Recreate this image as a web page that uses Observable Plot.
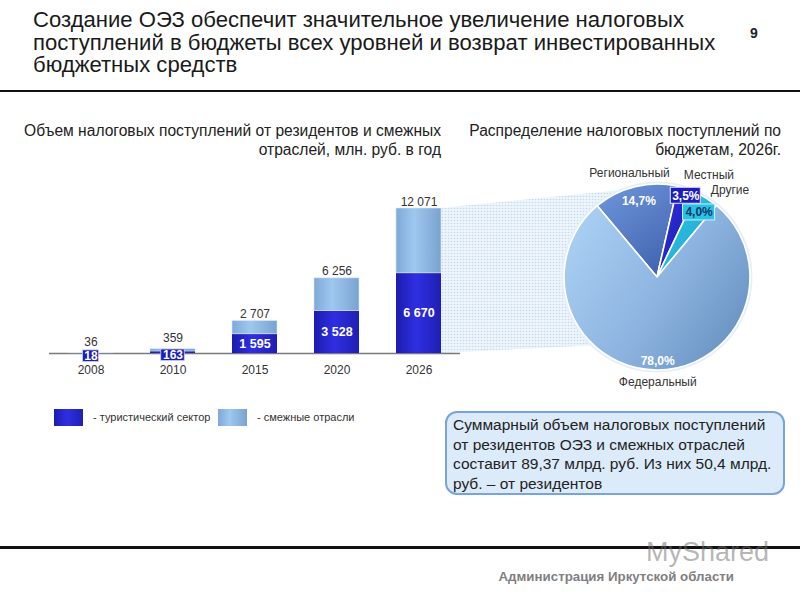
<!DOCTYPE html>
<html>
<head>
<meta charset="utf-8">
<script src="https://cdn.jsdelivr.net/npm/d3@7"></script>
<script src="https://cdn.jsdelivr.net/npm/@observablehq/plot@0.6"></script>
<style>
  html, body { margin: 0; padding: 0; background: #fff; }
  #page { position: relative; width: 800px; height: 600px; overflow: hidden; font-family: "Liberation Sans", Arial, sans-serif; color: #222; }
  .abs { position: absolute; }
  #title { left: 33px; top: 9px; font-size: 22.1px; color: #1a1a1a; white-space: nowrap; }
  #title div { height: 22.5px; line-height: 22.5px; }
  #pagenum { left: 750px; top: 25px; font-size: 14px; font-weight: bold; color: #222; }
  .rule { left: 0; width: 800px; background: #111; }
  .sub { top: 121px; font-size: 15.6px; line-height: 19px; text-align: right; color: #222; white-space: nowrap; }
  #subL { right: 359px; }
  #subR { right: 19px; }
  #bars { left: 0; top: 180px; }
  #pie { left: 540px; top: 160px; }
  #legend { left: 54px; top: 409px; font-size: 11px; color: #333; }
  .sw { position: absolute; top: 0; width: 29px; height: 17px; }
  .lt { position: absolute; top: 2px; white-space: nowrap; }
  #note { left: 445px; top: 411px; width: 340px; height: 84px; box-sizing: border-box; border: 2px solid #78a3dc; border-radius: 12px; background: #dcebfa; padding: 2px 6px; font-size: 15.5px; line-height: 19.6px; color: #222; }
  #footer { right: 66px; top: 569px; font-size: 13.3px; font-weight: bold; color: #7f7f7f; white-space: nowrap; }
  #wm { left: 646px; top: 537px; font-size: 27px; color: rgba(110,110,110,0.5); white-space: nowrap; }
</style>
</head>
<body>
<div id="page">
  <div id="title" class="abs"><div>Создание ОЭЗ обеспечит значительное увеличение налоговых</div><div>поступлений в бюджеты всех уровней и возврат инвестированных</div><div>бюджетных средств</div></div>
  <div id="pagenum" class="abs">9</div>
  <div class="abs rule" style="top:90px;height:2px"></div>
  <div id="subL" class="abs sub">Объем налоговых поступлений от резидентов и смежных<br>отраслей, млн. руб. в год</div>
  <div id="subR" class="abs sub">Распределение налоговых поступлений по<br>бюджетам, 2026г.</div>
  <div id="bars" class="abs"></div>
  <div id="pie" class="abs"></div>
  <div id="legend" class="abs"></div>
  <div id="note" class="abs">Суммарный объем налоговых поступлений от резидентов ОЭЗ и смежных отраслей составит 89,37 млрд. руб. Из них 50,4 млрд. руб. – от резидентов</div>
  <div class="abs rule" style="top:546px;height:2.5px"></div>
  <div id="wm" class="abs">MyShared</div>
  <div id="footer" class="abs">Администрация Иркутской области</div>
</div>
<script>
// ---------- data ----------
const years = ["2008", "2010", "2015", "2020", "2026"];
const tourism = [18, 163, 1595, 3528, 6670];
const totals = [36, 359, 2707, 6256, 12071];
const seriesLabels = ["- туристический сектор", "- смежные отрасли"];
const budgetNames = ["Региональный", "Местный", "Другие", "Федеральный"];
const budgetShares = [14.7, 3.5, 4.0, 78.0];

// ---------- formatting ----------
const ru = d3.formatLocale({decimal: ",", thousands: " ", grouping: [3], currency: ["", ""]});
const fmtInt = ru.format(",d");
const fmtPct = (v) => ru.format(".1f")(v) + "%";

const fontFamily = "'Liberation Sans', Arial, sans-serif";

// ---------- bar chart ----------
const rows = years.map((year, i) => ({year, tourism: tourism[i], total: totals[i]}));
const PIE_CX = 657, PIE_CY = 277, PIE_R = 93; // page layout of the pie
const BAR_LEFT = 0, BAR_TOP = 180;

function svgEl(tag) { return document.createElementNS("http://www.w3.org/2000/svg", tag); }

function barDefs() {
  const g = d3.create("svg:g");
  const defs = g.append("defs");
  const dark = defs.append("linearGradient").attr("id", "barDark").attr("x1", 0).attr("x2", 1).attr("y1", 0).attr("y2", 0);
  dark.append("stop").attr("offset", "0%").attr("stop-color", "#1c1cae");
  dark.append("stop").attr("offset", "45%").attr("stop-color", "#2f2fe2");
  dark.append("stop").attr("offset", "100%").attr("stop-color", "#1f1fb4");
  const light = defs.append("linearGradient").attr("id", "barLight").attr("x1", 0).attr("x2", 1).attr("y1", 0).attr("y2", 0);
  light.append("stop").attr("offset", "0%").attr("stop-color", "#7ea8d8");
  light.append("stop").attr("offset", "40%").attr("stop-color", "#9fc8ef");
  light.append("stop").attr("offset", "100%").attr("stop-color", "#7aa2d0");
  const pat = defs.append("pattern").attr("id", "dots").attr("width", 3).attr("height", 3).attr("patternUnits", "userSpaceOnUse");
  pat.append("rect").attr("width", 3).attr("height", 3).attr("fill", "#eef5fc");
  pat.append("circle").attr("cx", 1.5).attr("cy", 1.5).attr("r", 0.8).attr("fill", "#c3d8ee");
  return g.node();
}

// light dotted "zoom" band connecting the last bar to the pie
function bridgeMark(index, scales) {
  const last = years[years.length - 1];
  const x0 = scales.x(last) + scales.x.bandwidth();
  const yTop = scales.y(totals[totals.length - 1]);
  const yBase = scales.y(0);
  const cx = PIE_CX - BAR_LEFT, cy = PIE_CY - BAR_TOP;
  const pts = [[x0, yTop], [cx - 0.45 * PIE_R, cy - 0.93 * PIE_R], [cx - 0.6 * PIE_R, cy + 0.73 * PIE_R], [x0, yBase]];
  const p = svgEl("polygon");
  p.setAttribute("points", pts.map((d) => d.join(",")).join(" "));
  p.setAttribute("fill", "url(#dots)");
  return p;
}

const labelWidth = (s) => s.length * 7.5 + 1; // approx px width of a bold 12px label box
const needsBox = (d) => d.tourism < 500;

const barPlot = Plot.plot({
  width: 620,
  height: 200,
  marginLeft: 49,
  marginRight: 160,
  marginTop: 28,
  marginBottom: 27,
  x: {domain: years, paddingInner: 0.45, paddingOuter: 0.225},
  y: {domain: [0, d3.max(totals)], axis: null},
  style: {background: "transparent", fontFamily, fontSize: "12px", color: "#333", overflow: "visible"},
  marks: [
    barDefs,
    bridgeMark,
    Plot.ruleY([0], {stroke: "#7a7a7a", strokeWidth: 1.5}),
    Plot.barY(rows, {x: "year", y1: 0, y2: "tourism", fill: "url(#barDark)"}),
    Plot.barY(rows, {x: "year", y1: "tourism", y2: "total", fill: "url(#barLight)", stroke: "#dbe9f7", strokeWidth: 0.6}),
    // label boxes for segments too thin to hold their value
    ...rows.filter(needsBox).map((d) => {
      const w = labelWidth(fmtInt(d.tourism));
      return Plot.barY([d], {x: "year", y1: (r) => r.tourism / 2, y2: (r) => r.tourism / 2,
        insetLeft: (45 - w) / 2, insetRight: (45 - w) / 2, insetTop: -3, insetBottom: -8.5,
        fill: "#1c1cb8", stroke: "#c9d2f2", strokeWidth: 0.8});
    }),
    Plot.text(rows.filter((d) => !needsBox(d)), {x: "year", y: (d) => d.tourism / 2, text: (d) => fmtInt(d.tourism),
      fill: "white", fontWeight: "bold", fontSize: 12.5}),
    Plot.text(rows.filter(needsBox), {x: "year", y: (d) => d.tourism / 2, text: (d) => fmtInt(d.tourism),
      dy: 2.8, fill: "white", fontWeight: "bold", fontSize: 12}),
    Plot.text(rows.filter((d) => !needsBox(d)), {x: "year", y: "total", text: (d) => fmtInt(d.total),
      lineAnchor: "bottom", dy: -3, fill: "#333", fontSize: 12}),
    Plot.text(rows.filter(needsBox), {x: "year", y: "total", text: (d) => fmtInt(d.total),
      lineAnchor: "bottom", dy: -7, fill: "#333", fontSize: 12}),
    Plot.axisX({tickSize: 0, tickPadding: 12, fontSize: 12, fill: "#333", label: null})
  ]
});
document.getElementById("bars").appendChild(barPlot);

// ---------- pie chart ----------
const slices = budgetNames.map((name, i) => ({name, share: budgetShares[i]}));
const startAngle = -40 * Math.PI / 180;
const arcs = d3.pie().sort(null).value((d) => d.share)
  .startAngle(startAngle).endAngle(startAngle + 2 * Math.PI)(slices);

const sliceFill = ["url(#pieReg)", "url(#pieLoc)", "url(#pieOth)", "url(#pieFed)"];
const pctRadius = [0.85, 0.93, 0.83, 0.9];
const pctStyle = [
  {fill: "white", box: null},
  {fill: "white", box: {fill: "#1c1cc2", stroke: "#e0e4ff", w: 30}},
  {fill: "#0d3568", box: {fill: "#27c3e6", stroke: "#c8f0fb", w: 32}},
  {fill: "white", box: null}
];
const catLayout = [
  {r: 1.15, anchor: "middle", dx: -0.03},
  {r: 1.17, anchor: "start", dx: -0.1},
  {r: 1.12, anchor: "start", dx: -0.03},
  {r: 1.13, anchor: "middle", dx: 0}
];

const mid = (a) => (a.startAngle + a.endAngle) / 2;
const pctRows = arcs.map((a, i) => ({
  text: fmtPct(a.data.share), i,
  x: Math.sin(mid(a)) * pctRadius[i], y: Math.cos(mid(a)) * pctRadius[i]
}));
const catRows = arcs.map((a, i) => ({
  text: a.data.name, anchor: catLayout[i].anchor,
  x: Math.sin(mid(a)) * catLayout[i].r + catLayout[i].dx, y: Math.cos(mid(a)) * catLayout[i].r
}));

function pieMark(index, scales) {
  const cx = scales.x(0), cy = scales.y(0), r = scales.x(1) - cx;
  const g = d3.create("svg:g");
  const defs = g.append("defs");
  const grad = (id, x1, y1, x2, y2, stops) => {
    const lg = defs.append("linearGradient").attr("id", id)
      .attr("x1", x1).attr("y1", y1).attr("x2", x2).attr("y2", y2);
    stops.forEach(([o, c]) => lg.append("stop").attr("offset", o).attr("stop-color", c));
  };
  grad("pieFed", 0, 0.2, 1, 0.8, [["0%", "#a9cff3"], ["55%", "#8cb3df"], ["100%", "#6790c0"]]);
  grad("pieReg", 0, 0, 0.6, 1, [["0%", "#6f98dc"], ["100%", "#4466b2"]]);
  grad("pieLoc", 0, 0, 1, 1, [["0%", "#3030dc"], ["100%", "#1c1cb0"]]);
  grad("pieOth", 0, 0, 1, 1, [["0%", "#34cdec"], ["100%", "#1a9dc8"]]);
  const arc = d3.arc().innerRadius(0).outerRadius(r);
  g.append("circle").attr("cx", cx).attr("cy", cy).attr("r", r + 1.5)
    .attr("fill", "none").attr("stroke", "#e6eef8").attr("stroke-width", 2);
  g.append("g").attr("transform", `translate(${cx},${cy})`)
    .selectAll("path").data(arcs).join("path")
    .attr("d", arc)
    .attr("fill", (d, i) => sliceFill[i])
    .attr("stroke", "#fff").attr("stroke-width", 1.6).attr("stroke-linejoin", "round");
  return g.node();
}

const boxed = pctRows.filter((d) => pctStyle[d.i].box);
const piePlot = Plot.plot({
  width: 240,
  height: 240,
  marginLeft: 24,
  marginRight: 30,
  marginTop: 24,
  marginBottom: 30,
  x: {domain: [-1, 1], axis: null},
  y: {domain: [-1, 1], axis: null},
  style: {background: "transparent", fontFamily, fontSize: "12px", color: "#333", overflow: "visible"},
  marks: [
    pieMark,
    ...boxed.map((d) => Plot.rect([d], {x1: "x", x2: "x", y1: "y", y2: "y",
      insetLeft: -pctStyle[d.i].box.w / 2, insetRight: -pctStyle[d.i].box.w / 2, insetTop: -8, insetBottom: -8,
      fill: pctStyle[d.i].box.fill, stroke: pctStyle[d.i].box.stroke, strokeWidth: 1})),
    Plot.text(pctRows, {x: "x", y: "y", text: "text", fill: (d) => pctStyle[d.i].fill,
      fontWeight: "bold", fontSize: 12}),
    Plot.text(catRows.filter((d) => d.anchor === "middle"), {x: "x", y: "y", text: "text",
      textAnchor: "middle", fill: "#333", fontSize: 12}),
    Plot.text(catRows.filter((d) => d.anchor === "start"), {x: "x", y: "y", text: "text",
      textAnchor: "start", fill: "#333", fontSize: 12})
  ]
});
document.getElementById("pie").appendChild(piePlot);

// ---------- legend ----------
const legend = document.getElementById("legend");
const swatches = [
  {left: 0, bg: "linear-gradient(90deg,#1c1cae,#2f2fe2 45%,#1f1fb4)"},
  {left: 164, bg: "linear-gradient(90deg,#7ea8d8,#9fc8ef 40%,#7aa2d0)"}
];
seriesLabels.forEach((label, i) => {
  const sw = document.createElement("div");
  sw.className = "sw";
  sw.style.left = swatches[i].left + "px";
  sw.style.background = swatches[i].bg;
  legend.appendChild(sw);
  const t = document.createElement("div");
  t.className = "lt";
  t.style.left = (swatches[i].left + 39) + "px";
  t.textContent = label;
  legend.appendChild(t);
});
</script>
</body>
</html>
